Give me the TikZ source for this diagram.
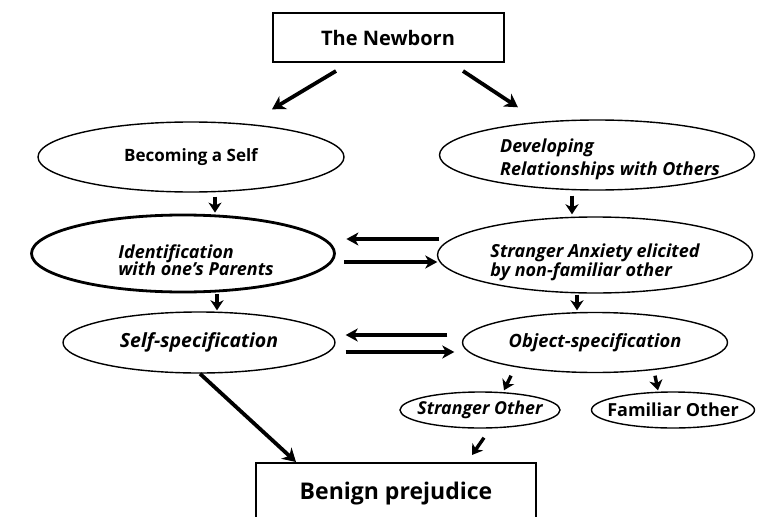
\documentclass[tikz,border=0pt]{standalone}
\usepackage{fontspec}
\setmainfont{Open Sans}
\usetikzlibrary{shapes.geometric,arrows.meta,calc}
\newcommand{\fsz}[1]{\fontsize{#1}{#1}\selectfont}
\newcommand{\lowered}[2]{\raisebox{0pt}[\dimexpr\height+#1\relax][\depth]{\begin{tabular}{@{}l@{}}#2\end{tabular}}}
\begin{document}
\begin{tikzpicture}[x=1pt,y=-1pt,
  oval/.style={draw,ellipse,line width=1.4pt,inner xsep=-40pt,inner ysep=-12pt,align=left},
  it/.style={font=\bfseries\itshape\fsz{#1}},
  up/.style={font=\bfseries\fsz{#1}},
  sq/.style={draw,rectangle,line width=2pt,inner sep=0pt},
  bigarr/.style={line width=3.8pt,-{Stealth[length=13pt,width=15pt,inset=4pt]}},
  smallarr/.style={line width=3.4pt,-{Stealth[length=10pt,width=13pt,inset=3pt]}},
  midarr/.style={line width=3.8pt,-{Stealth[length=12pt,width=13pt,inset=3.5pt]}}]
\clip (0,0) rectangle (759,516);
\node[sq,minimum width=231pt,minimum height=49pt,up=20] (newborn) at (388,38) {The Newborn};
\node[oval,minimum width=306pt,minimum height=70pt,up=17] (becoming) at (191,157) {Becoming a Self};
\node[oval,minimum width=315pt,minimum height=70pt,it=18] (develop) at (597,155) {\lowered{9pt}{\hspace*{26pt}Developing\\[4pt]\hspace*{26pt}Relationships with Others}};
\node[oval,line width=2.8pt,minimum width=303pt,minimum height=77pt,it=18] (ident) at (183,253.5) {\lowered{19pt}{\hspace*{26pt}Identification\\[-2pt]\hspace*{26pt}with one’s Parents}};
\node[oval,minimum width=315pt,minimum height=76pt,it=18] (stranger) at (595,255) {\lowered{15pt}{Stranger Anxiety elicited\\[0pt]by non-familiar other}};
\node[oval,minimum width=272pt,minimum height=61pt,it=19.5] (selfspec) at (199,342.5) {Self-specification};
\node[oval,minimum width=265pt,minimum height=60pt,it=18.3] (objspec) at (595,342.5) {Object-specification};
\node[oval,minimum width=160pt,minimum height=36pt,it=17.8] (strother) at (480,410) {Stranger Other};
\node[oval,minimum width=163pt,minimum height=36pt,up=18] (famother) at (673,410) {Familiar Other};
\node[sq,minimum width=280pt,minimum height=62pt,up=23] (benign) at (396,494) {Benign prejudice};
% arrows
\draw[bigarr] ($(newborn.south)+(-52,7.5)$) -- ($(becoming.north)+(81,-12)$);
\draw[bigarr] ($(newborn.south)+(75,7.5)$) -- ($(develop.north)+(-79,-12)$);
\draw[smallarr] ($(becoming.south)+(24,4)$) -- ($(ident.north)+(32,-1)$);
\draw[smallarr] ($(develop.south)+(-25,5)$) -- ($(stranger.north)+(-23,-2)$);
\draw[midarr] ($(stranger.west)+(2.5,-16)$) -- ($(ident.east)+(10.5,-14.5)$);
\draw[midarr] ($(ident.east)+(8.5,8.5)$) -- ($(stranger.west)+(0.5,7)$);
\draw[smallarr] ($(ident.south)+(34,1)$) -- ($(selfspec.north)+(18,-1)$);
\draw[smallarr] ($(stranger.south)+(-18,1)$) -- ($(objspec.north)+(-18,-1.5)$);
\draw[midarr] ($(objspec.west)+(-14.5,-7.5)$) -- ($(selfspec.east)+(10,-7.5)$);
\draw[midarr] ($(selfspec.east)+(10,9.5)$) -- ($(objspec.west)+(-7.5,9.5)$);
\draw[smallarr] ($(objspec.south)+(-84,2.5)$) -- ($(strother.north)+(24,-1)$);
\draw[smallarr] ($(objspec.south)+(60,2.5)$) -- ($(famother.north)+(-15,-1)$);
\draw[smallarr] ($(strother.south)+(4,9)$) -- ($(benign.north)+(76,-7)$);
\draw[bigarr] ($(selfspec.south)+(1,0)$) -- ($(benign.north)+(-100,0)$);
\end{tikzpicture}
\end{document}
